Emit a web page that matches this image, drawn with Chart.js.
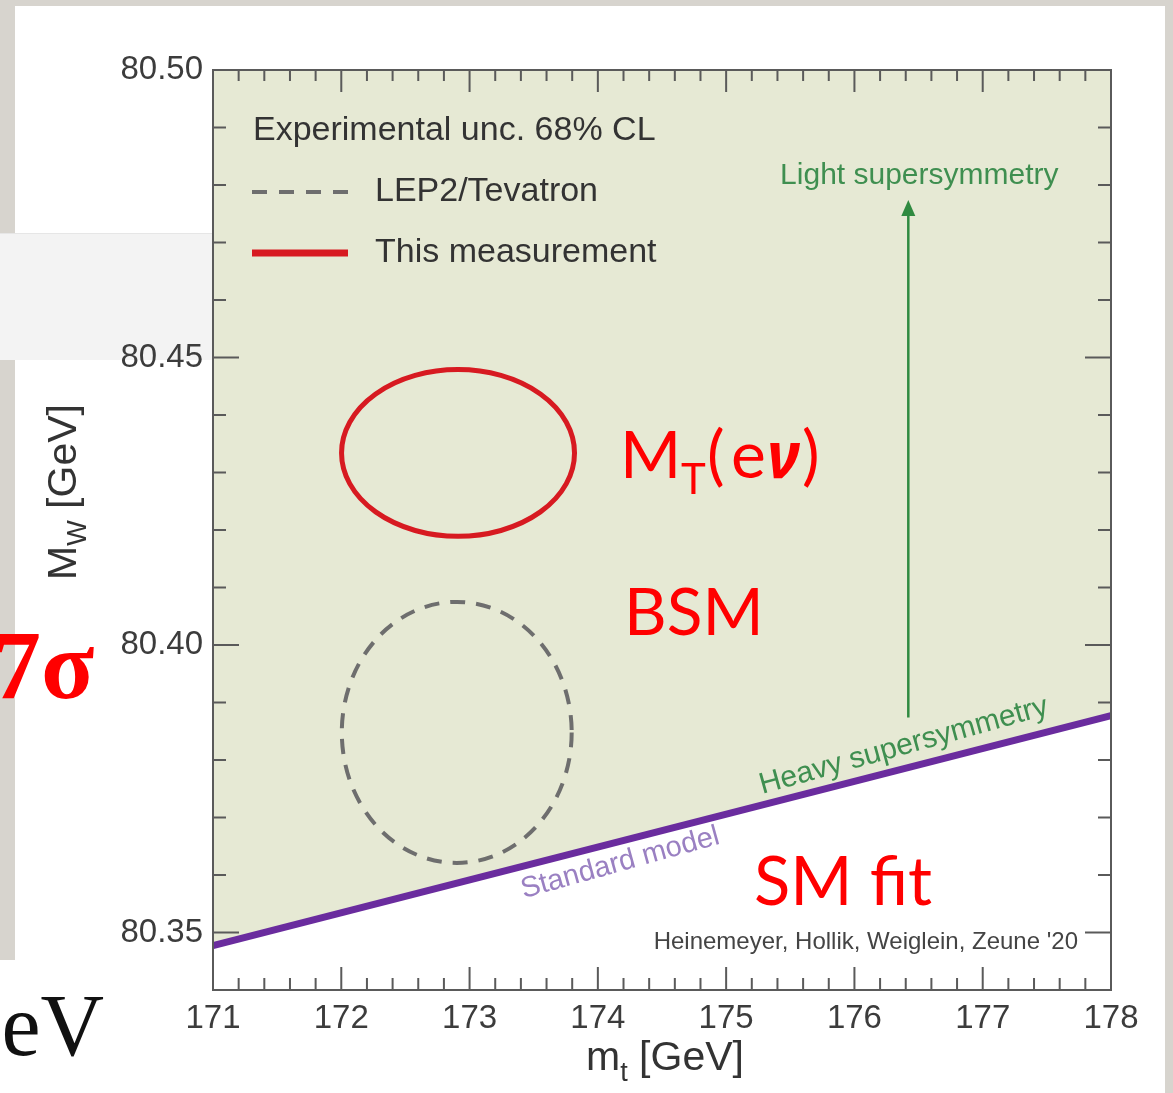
<!DOCTYPE html>
<html><head><meta charset="utf-8">
<script src="https://cdn.jsdelivr.net/npm/chart.js@4.4.1/dist/chart.umd.min.js"></script>
<style>html,body{margin:0;padding:0;background:#d7d4ce;overflow:hidden}canvas{display:block}</style>
</head><body>
<canvas id="c" width="1173" height="1093"></canvas>
<script>
// ---- data ----
const xTickValues = [171, 172, 173, 174, 175, 176, 177, 178];
const xTickLabels = ['171', '172', '173', '174', '175', '176', '177', '178'];
const yTickValues = [80.35, 80.40, 80.45, 80.50];
const yTickLabels = ['80.35', '80.40', '80.45', '80.50'];
const smLineX = [171, 178];
const smLineY = [80.3477, 80.3877];
const ellipseNames = ['LEP2/Tevatron', 'This measurement'];
const ellipseCenterX = [172.90, 172.91];
const ellipseCenterY = [80.3848, 80.4334];
const ellipseHalfWidth = [0.896, 0.908];
const ellipseHalfHeight = [0.0227, 0.0145];
const susyArrowX = [176.42, 176.42];
const susyArrowY = [80.3874, 80.4774];

const COL = {
  marble: '#d7d4ce', box: '#f3f3f3', fill: '#e6e9d4', purple: '#6a2c9e',
  red: '#d71a21', gray: '#6e6e6e', axis: '#5a5a5a', text: '#333333',
  green: '#2f8a40', greenText: '#3f8f50', lilac: '#9a80c2', slideRed: '#ff0000'
};
const SANS = '"Liberation Sans", Arial, sans-serif';

const bgPlugin = {
  id: 'bg',
  beforeDraw(chart) {
    const ctx = chart.ctx;
    ctx.save();
    ctx.fillStyle = COL.marble; ctx.fillRect(0, 0, 1173, 1093);
    ctx.fillStyle = '#ffffff'; ctx.fillRect(15, 6, 1150, 1087); ctx.fillRect(0, 960, 15, 133);
    ctx.fillStyle = COL.box; ctx.fillRect(0, 233, 213, 127);
    ctx.strokeStyle = '#e6e6e6'; ctx.lineWidth = 1;
    ctx.beginPath(); ctx.moveTo(0, 233.5); ctx.lineTo(213, 233.5); ctx.stroke();
    ctx.restore();
  }
};

function rotText(ctx, txt, px, py, ang, font, color, off) {
  ctx.save();
  ctx.translate(px, py); ctx.rotate(ang);
  ctx.font = font; ctx.fillStyle = color; ctx.textAlign = 'center'; ctx.textBaseline = 'middle';
  ctx.fillText(txt, 0, off);
  ctx.restore();
}

const overlayPlugin = {
  id: 'overlay',
  afterDatasetsDraw(chart) {
    const { ctx, chartArea: ca, scales: { x, y } } = chart;
    ctx.save();
    // ellipses
    ctx.save();
    ctx.beginPath(); ctx.rect(ca.left, ca.top, ca.right - ca.left, ca.bottom - ca.top); ctx.clip();
    for (let i = 0; i < ellipseCenterX.length; i++) {
      const cx = x.getPixelForValue(ellipseCenterX[i]);
      const cy = y.getPixelForValue(ellipseCenterY[i]);
      const rx = Math.abs(x.getPixelForValue(ellipseCenterX[i] + ellipseHalfWidth[i]) - cx);
      const ry = Math.abs(y.getPixelForValue(ellipseCenterY[i] + ellipseHalfHeight[i]) - cy);
      ctx.beginPath(); ctx.ellipse(cx, cy, rx, ry, 0, 0, Math.PI * 2);
      if (i === 0) { ctx.setLineDash([15, 11]); ctx.lineWidth = 4; ctx.strokeStyle = COL.gray; }
      else { ctx.setLineDash([]); ctx.lineWidth = 5; ctx.strokeStyle = COL.red; }
      ctx.stroke();
    }
    ctx.setLineDash([]);
    // arrow
    const ax = x.getPixelForValue(susyArrowX[0]);
    const ay0 = y.getPixelForValue(susyArrowY[0]);
    const ay1 = y.getPixelForValue(susyArrowY[1]);
    ctx.strokeStyle = COL.green; ctx.fillStyle = COL.green; ctx.lineWidth = 2.5;
    ctx.beginPath(); ctx.moveTo(ax, ay0); ctx.lineTo(ax, ay1 + 12); ctx.stroke();
    ctx.beginPath(); ctx.moveTo(ax, ay1); ctx.lineTo(ax - 7, ay1 + 16); ctx.lineTo(ax + 7, ay1 + 16); ctx.closePath(); ctx.fill();
    ctx.restore();

    // labels along SM line
    const p0x = x.getPixelForValue(smLineX[0]), p0y = y.getPixelForValue(smLineY[0]);
    const p1x = x.getPixelForValue(smLineX[1]), p1y = y.getPixelForValue(smLineY[1]);
    const ang = Math.atan2(p1y - p0y, p1x - p0x);
    const lineAt = (px) => p0y + (px - p0x) * (p1y - p0y) / (p1x - p0x);
    const hx = x.getPixelForValue(176.43);
    rotText(ctx, 'Heavy supersymmetry', hx, lineAt(hx), ang - 0.02, '30px ' + SANS, COL.greenText, -22);
    const sx = x.getPixelForValue(174.13);
    rotText(ctx, 'Standard model', sx, lineAt(sx), ang - 0.02, '29px ' + SANS, COL.lilac, 21);

    // Light supersymmetry
    ctx.font = '30px ' + SANS; ctx.fillStyle = COL.greenText; ctx.textAlign = 'center'; ctx.textBaseline = 'middle';
    ctx.fillText('Light supersymmetry', ax + 11, ay1 - 24);

    // frame
    ctx.strokeStyle = COL.axis; ctx.lineWidth = 2;
    ctx.strokeRect(ca.left, ca.top, ca.right - ca.left, ca.bottom - ca.top);
    // ticks
    ctx.beginPath();
    for (let i = 0; i < xTickValues.length; i++) {
      const px = x.getPixelForValue(xTickValues[i]);
      ctx.moveTo(px, ca.bottom); ctx.lineTo(px, ca.bottom - 23);
      ctx.moveTo(px, ca.top); ctx.lineTo(px, ca.top + 22);
      if (i < xTickValues.length - 1) {
        const step = (xTickValues[i + 1] - xTickValues[i]) / 5;
        for (let k = 1; k < 5; k++) {
          const mx = x.getPixelForValue(xTickValues[i] + k * step);
          ctx.moveTo(mx, ca.bottom); ctx.lineTo(mx, ca.bottom - 12);
          ctx.moveTo(mx, ca.top); ctx.lineTo(mx, ca.top + 11);
        }
      }
    }
    for (let i = 0; i < yTickValues.length; i++) {
      const py = y.getPixelForValue(yTickValues[i]);
      ctx.moveTo(ca.left, py); ctx.lineTo(ca.left + 26, py);
      ctx.moveTo(ca.right, py); ctx.lineTo(ca.right - 26, py);
    }
    const ystep = (yTickValues[1] - yTickValues[0]) / 5;
    for (let i = 0; i < yTickValues.length; i++) {
      for (let k = 1; k < 5; k++) {
        const v = yTickValues[i] - k * ystep;
        if (v < y.min - 1e-9) continue;
        const py = y.getPixelForValue(v);
        ctx.moveTo(ca.left, py); ctx.lineTo(ca.left + 13, py);
        ctx.moveTo(ca.right, py); ctx.lineTo(ca.right - 13, py);
      }
    }
    ctx.stroke();

    // legend
    ctx.textAlign = 'left'; ctx.textBaseline = 'middle'; ctx.fillStyle = COL.text;
    ctx.font = '34px ' + SANS;
    ctx.fillText('Experimental unc. 68% CL', ca.left + 40, ca.top + 61);
    ctx.fillText(ellipseNames[0], ca.left + 162, ca.top + 122);
    ctx.fillText(ellipseNames[1], ca.left + 162, ca.top + 183);
    ctx.strokeStyle = COL.gray; ctx.lineWidth = 4; ctx.setLineDash([15, 12]);
    ctx.beginPath(); ctx.moveTo(ca.left + 39, ca.top + 122); ctx.lineTo(ca.left + 136, ca.top + 122); ctx.stroke();
    ctx.setLineDash([]);
    ctx.strokeStyle = COL.red; ctx.lineWidth = 7;
    ctx.beginPath(); ctx.moveTo(ca.left + 39, ca.top + 183); ctx.lineTo(ca.left + 135, ca.top + 183); ctx.stroke();

    // credit
    ctx.font = '24px ' + SANS; ctx.fillStyle = '#444'; ctx.textAlign = 'right';
    ctx.fillText("Heinemeyer, Hollik, Weiglein, Zeune '20", ca.right - 33, ca.bottom - 48);

    // axis titles
    ctx.fillStyle = COL.text; ctx.textBaseline = 'alphabetic'; ctx.textAlign = 'left';
    {
      const big = '41px ' + SANS, small = '27px ' + SANS;
      ctx.font = big; const wM = ctx.measureText('m').width; const wG = ctx.measureText(' [GeV]').width;
      ctx.font = small; const wt = ctx.measureText('t').width;
      const tot = wM + wt + wG; const sx0 = 665 - tot / 2; const base = 1070;
      ctx.font = big; ctx.fillText('m', sx0, base);
      ctx.font = small; ctx.fillText('t', sx0 + wM, base + 11);
      ctx.font = big; ctx.fillText(' [GeV]', sx0 + wM + wt, base);
    }
    {
      ctx.save();
      ctx.translate(76, 492); ctx.rotate(-Math.PI / 2);
      const big = '41px ' + SANS, small = '27px ' + SANS;
      ctx.font = big; const wM = ctx.measureText('M').width; const wG = ctx.measureText(' [GeV]').width;
      ctx.font = small; const ww = ctx.measureText('W').width;
      const tot = wM + ww + wG; const s0 = -tot / 2;
      ctx.font = big; ctx.fillText('M', s0, 0);
      ctx.font = small; ctx.fillText('W', s0 + wM, 10);
      ctx.font = big; ctx.fillText(' [GeV]', s0 + wM + ww, 0);
      ctx.restore();
    }

    // slide overlay texts
    ctx.fillStyle = COL.slideRed; ctx.textAlign = 'left'; ctx.textBaseline = 'alphabetic';
    const L = '66px Lato, "Open Sans", sans-serif';
    ctx.font = L; ctx.fillText('BSM', 624, 635);
    ctx.font = '67px Lato, "Open Sans", sans-serif'; ctx.fillText('SM fit', 754, 905);
    {
      const b = 478;
      ctx.font = L; ctx.fillText('M', 620, b);
      ctx.font = '42px Lato, "Open Sans", sans-serif'; ctx.fillText('T', 681, b + 16);
      ctx.font = L; ctx.fillText('(', 707, b); ctx.fillText('e', 731, b);
      ctx.font = 'italic bold 64px "Noto Sans", "Open Sans", sans-serif'; ctx.fillText('\u03BD', 767, b);
      ctx.font = L; ctx.fillText(')', 802, b);
    }
    ctx.font = 'bold 98px "Liberation Serif", "Times New Roman", serif';
    ctx.fillText('7\u03C3', -8, 698);
    ctx.fillStyle = '#111'; ctx.textAlign = 'right';
    ctx.font = '88px "Liberation Serif", "Times New Roman", serif';
    ctx.fillText('GeV', 104, 1055);
    ctx.restore();
  }
};

new Chart(document.getElementById('c'), {
  type: 'line',
  data: {
    datasets: [{
      label: 'Standard model',
      data: smLineX.map((v, i) => ({ x: v, y: smLineY[i] })),
      borderColor: COL.purple, borderWidth: 7, pointRadius: 0,
      fill: 'end', backgroundColor: COL.fill, tension: 0
    }]
  },
  options: {
    responsive: false, animation: false, devicePixelRatio: 1,
    layout: { padding: { top: 70, right: 62, left: 0, bottom: 0 } },
    plugins: { legend: { display: false }, tooltip: { enabled: false } },
    scales: {
      x: {
        type: 'linear', min: 171, max: 178,
        afterBuildTicks: s => { s.ticks = xTickValues.map(v => ({ value: v })); },
        afterFit: s => { s.height = 103; },
        ticks: { callback: (v, i) => xTickLabels[i], font: { size: 33, family: SANS }, color: '#3c3c3c', padding: 9, maxRotation: 0, autoSkip: false },
        grid: { display: false, drawTicks: false }, border: { display: false }
      },
      y: {
        type: 'linear', min: 80.34, max: 80.50,
        afterBuildTicks: s => { s.ticks = yTickValues.map(v => ({ value: v })); },
        afterFit: s => { s.width = 213; },
        ticks: { callback: (v, i) => yTickLabels[i], font: { size: 33, family: SANS }, color: '#3c3c3c', padding: 10, autoSkip: false },
        grid: { display: false, drawTicks: false }, border: { display: false }
      }
    }
  },
  plugins: [bgPlugin, overlayPlugin]
});
</script>
</body></html>
